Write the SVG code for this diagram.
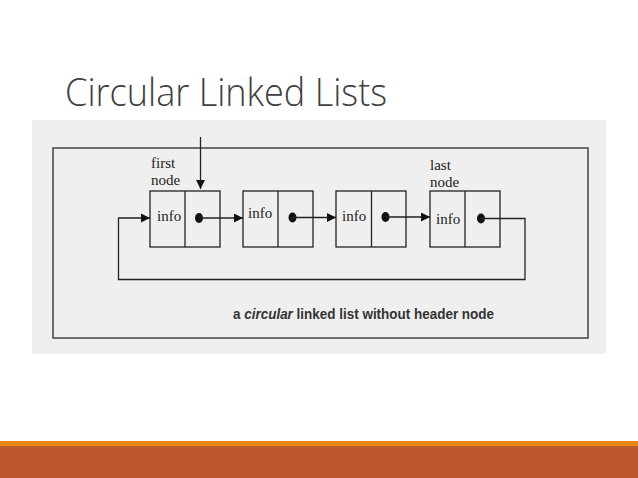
<svg xmlns="http://www.w3.org/2000/svg" width="638" height="478" viewBox="0 0 638 478">
<defs>
<style>
.box{fill:none;stroke:#222;stroke-width:1.3}
.lbl{font-family:"Liberation Serif","Times New Roman",serif;font-size:15px;fill:#222}
.ln{fill:none;stroke:#222;stroke-width:1.3}
.dot{fill:#111}
</style>
<marker id="ah" viewBox="0 0 10 10" refX="10" refY="5" markerWidth="9" markerHeight="9" markerUnits="userSpaceOnUse" orient="auto">
<path d="M0,0 L10,5 L0,10 z" fill="#111"/>
</marker>
</defs>
<rect x="0" y="0" width="638" height="478" fill="#fff"/>
<text x="65" y="106" font-family="'Open Sans','Liberation Sans',sans-serif" font-weight="300" font-size="38" fill="#404040" textLength="322" lengthAdjust="spacingAndGlyphs">Circular Linked Lists</text>
<rect x="32" y="120" width="574" height="234" fill="#efefef"/>
<rect x="53" y="148" width="535" height="190" fill="none" stroke="#444" stroke-width="1.5"/>
<g id="node1">
<rect class="box" x="150" y="191" width="70" height="56"/>
<line class="box" x1="185" y1="191" x2="185" y2="247"/>
<text class="lbl" x="157" y="221">info</text>
<ellipse class="dot" cx="199" cy="218" rx="4" ry="5"/>
<text class="lbl" x="151" y="168">first</text>
<text class="lbl" x="151" y="185">node</text>
</g>
<g id="node2">
<rect class="box" x="243" y="191" width="70" height="56"/>
<line class="box" x1="278" y1="191" x2="278" y2="247"/>
<text class="lbl" x="248" y="218">info</text>
<ellipse class="dot" cx="292.5" cy="217.5" rx="4" ry="5"/>
</g>
<g id="node3">
<rect class="box" x="336" y="191" width="70" height="56"/>
<line class="box" x1="371.5" y1="191" x2="371.5" y2="247"/>
<text class="lbl" x="342" y="221">info</text>
<ellipse class="dot" cx="385.5" cy="217" rx="4" ry="5"/>
</g>
<g id="node4">
<rect class="box" x="430" y="191" width="70" height="56"/>
<line class="box" x1="465" y1="191" x2="465" y2="247"/>
<text class="lbl" x="436" y="224">info</text>
<ellipse class="dot" cx="481" cy="218.5" rx="4" ry="5"/>
<text class="lbl" x="430" y="170">last</text>
<text class="lbl" x="430" y="187">node</text>
</g>
<g id="connectors">
<line class="ln" x1="200.5" y1="137" x2="200.5" y2="189" marker-end="url(#ah)"/>
<line class="ln" x1="199" y1="218" x2="243" y2="218" marker-end="url(#ah)"/>
<line class="ln" x1="292.5" y1="217.5" x2="336" y2="217.5" marker-end="url(#ah)"/>
<line class="ln" x1="385.5" y1="217" x2="430" y2="217" marker-end="url(#ah)"/>
<polyline class="ln" points="481,218.5 525,218.5 525,279.5 118.5,279.5 118.5,218 150,218" marker-end="url(#ah)" stroke="#333"/>
</g>
<text x="233" y="318.5" font-family="'Liberation Sans',Arial,sans-serif" font-weight="bold" font-size="15" fill="#333" textLength="261" lengthAdjust="spacingAndGlyphs">a <tspan font-style="italic">circular</tspan> linked list without header node</text>
<rect x="0" y="441" width="638" height="6" fill="#e8861a"/>
<rect x="0" y="446" width="638" height="32" fill="#bc582c"/>
</svg>
